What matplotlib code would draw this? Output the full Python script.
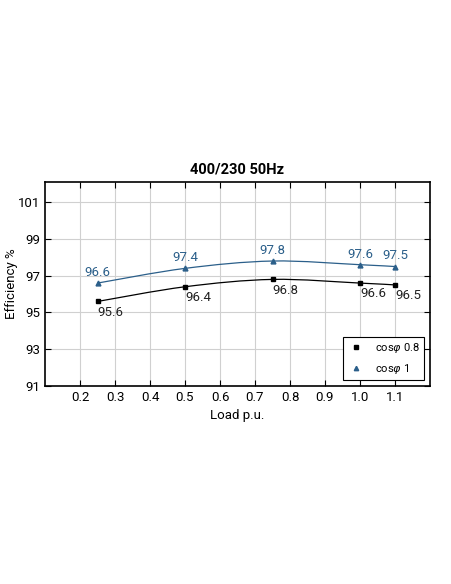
"""Curva de eficiencia vs carga, 400/230 50Hz."""
import matplotlib
matplotlib.use('Agg')
import matplotlib.pyplot as plt
from matplotlib.path import Path
from matplotlib.patches import PathPatch

plt.rcParams['font.family'] = ['Roboto', 'DejaVu Sans']

load = [0.25, 0.5, 0.75, 1.0, 1.1]
eff_pf08 = [95.6, 96.4, 96.8, 96.6, 96.5]
eff_pf1 = [96.6, 97.4, 97.8, 97.6, 97.5]
x_ticks = [0.2, 0.3, 0.4, 0.5, 0.6, 0.7, 0.8, 0.9, 1.0, 1.1]
y_ticks = [91, 93, 95, 97, 99, 101]

BLUE = '#2b5f8a'


def smooth_path(xs, ys):
    # Catmull-Rom -> Bezier, solo para dibujar la línea suave
    verts = [(xs[0], ys[0])]
    codes = [Path.MOVETO]
    n = len(xs)
    for i in range(n - 1):
        x0, y0 = (xs[i - 1], ys[i - 1]) if i > 0 else (xs[i], ys[i])
        x1, y1 = xs[i], ys[i]
        x2, y2 = xs[i + 1], ys[i + 1]
        x3, y3 = (xs[i + 2], ys[i + 2]) if i + 2 < n else (x2, y2)
        c1 = (x1 + (x2 - x0) / 6, y1 + (y2 - y0) / 6)
        c2 = (x2 - (x3 - x1) / 6, y2 - (y3 - y1) / 6)
        verts += [c1, c2, (x2, y2)]
        codes += [Path.CURVE4] * 3
    return Path(verts, codes)


fig = plt.figure(figsize=(4.52, 5.84), dpi=100)
ax = fig.add_axes([45 / 452, 1 - 386 / 584, 385 / 452, 204 / 584])

for xs, ys, c in [(load, eff_pf08, 'black'), (load, eff_pf1, BLUE)]:
    ax.add_patch(PathPatch(smooth_path(xs, ys), facecolor='none',
                           edgecolor=c, linewidth=0.9, zorder=3))

ax.plot(load, eff_pf08, 's', color='black', markersize=3.5, linestyle='none',
        zorder=4, label=r'cos$\varphi$ 0.8')
ax.plot(load, eff_pf1, '^', color=BLUE, markersize=3.5, linestyle='none',
        zorder=4, label=r'cos$\varphi$ 1')

for x, y in zip(load, eff_pf08):
    ax.annotate(f'{y:.1f}', (x, y), xytext=(0, -3), textcoords='offset points',
                ha='left', va='top', fontsize=9.5, color='#222222')
for x, y in zip(load, eff_pf1):
    ax.annotate(f'{y:.1f}', (x, y), xytext=(0, 3), textcoords='offset points',
                ha='center', va='bottom', fontsize=9.5, color=BLUE)

ax.set_xlim(0.1, 1.2)
ax.set_ylim(91, 102.1)
ax.set_xticks(x_ticks)
ax.set_xticklabels([f'{t:.1f}' for t in x_ticks])
ax.set_yticks(y_ticks)
ax.grid(True, color='#d0d0d0', linewidth=0.8)
ax.set_axisbelow(True)
ax.tick_params(direction='in', top=True, right=True, length=4,
               labelsize=9.5, width=0.8)
for s in ax.spines.values():
    s.set_linewidth(1.2)

ax.set_xlabel('Load p.u.', fontsize=9.5)
ax.set_ylabel('Efficiency %', fontsize=9.5)
ax.yaxis.set_label_coords(-27 / 385, 0.5)
ax.set_title('400/230 50Hz', fontsize=10.5, fontweight='bold', pad=6)

leg = ax.legend(loc='lower right', fontsize=8, frameon=True, fancybox=False,
                edgecolor='black', framealpha=1, borderaxespad=0.5,
                handletextpad=0.9, handlelength=1.6, labelspacing=0.6,
                markerscale=0.9)
leg.get_frame().set_linewidth(0.8)

fig.savefig('out.png', dpi=100, facecolor='white')
